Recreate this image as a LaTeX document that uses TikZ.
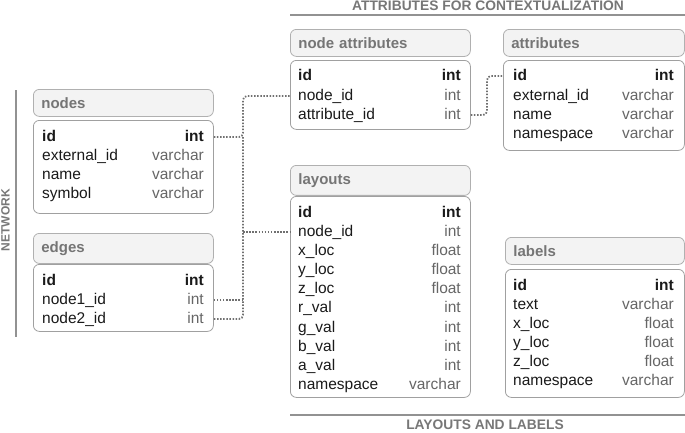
\documentclass[tikz,border=0pt]{standalone}
\usepackage{fontspec}
\setmainfont{Liberation Sans}
\definecolor{hdrfill}{HTML}{F3F3F3}
\definecolor{hdrline}{HTML}{B0B0B0}
\definecolor{boxline}{HTML}{A0A0A0}
\definecolor{hdrtext}{HTML}{757575}
\definecolor{fldtext}{HTML}{1A1A1A}
\definecolor{typtext}{HTML}{666666}
\definecolor{seclabel}{HTML}{777777}
\definecolor{linkcol}{HTML}{707070}
\tikzset{
  hdr/.style={draw=hdrline, fill=hdrfill, rounded corners=6pt, line width=0.8pt,
    anchor=north west, inner sep=8pt, minimum height=26pt, align=left,
    text=hdrtext, font=\fontsize{15}{17}\selectfont\bfseries},
  tbody/.style={draw=boxline, fill=white, rounded corners=6pt, line width=0.8pt,
    anchor=north west, inner sep=0pt},
  fld/.style={anchor=west, inner sep=0pt, text height=11pt, text depth=3pt,
    text=fldtext, font=\fontsize{15.5}{17}\selectfont},
  typ/.style={anchor=east, inner sep=0pt, text height=11pt, text depth=3pt,
    text=typtext, font=\fontsize{15.5}{17}\selectfont},
  sec/.style={inner sep=0pt, text=seclabel, font=\fontsize{13.8}{15}\selectfont\bfseries},
  secline/.style={draw=seclabel!80, line width=1.8pt},
  link/.style={draw=linkcol, line width=1.8pt, dash pattern=on 1.5pt off 1.6pt, rounded corners=4pt}
}
\begin{document}
\begin{tikzpicture}[x=1pt,y=-1pt]
	  \useasboundingbox (0,0) rectangle (685,432);
	  % section labels
	  \node[sec] (sec-attr) at (488,5.5) {ATTRIBUTES FOR CONTEXTUALIZATION};
	  \node[sec] (sec-lay) at (485,424.5) {LAYOUTS AND LABELS};
	  \node[sec, rotate=90, font=\fontsize{12}{13}\selectfont\bfseries] (sec-net) at (5.5,220) {NETWORK};
	  \draw[secline] (290,15) -- (685,15);
	  \draw[secline] (290,415) -- (685,415);
	  \draw[secline] (16,90) -- (16,337);
	  % nodes
	  \node[hdr, text width=164pt] (nodes-hdr) at (33,89) {nodes};
	  \node[tbody, minimum width=180pt, minimum height=93pt] (nodes-body) at (33,120) {};
	  \node[fld] (nodes-id) at (42,137) {\textbf{id}};
	  \node[fld] (nodes-ext) at (42,156) {external\_id};
	  \node[fld] (nodes-name) at (42,175) {name};
	  \node[fld] (nodes-sym) at (42,194) {symbol};
	  \node[typ] (nodes-idt) at (204,137) {\textbf{\color{fldtext}int}};
	  \node[typ] (nodes-extt) at (204,156) {varchar};
	  \node[typ] (nodes-namet) at (204,175) {varchar};
	  \node[typ] (nodes-symt) at (204,194) {varchar};
	  % edges
	  \node[hdr, text width=164pt] (edges-hdr) at (33,233) {edges};
	  \node[tbody, minimum width=180pt, minimum height=67pt] (edges-body) at (33,264) {};
	  \node[fld] (edges-id) at (42,281) {\textbf{id}};
	  \node[fld] (edges-n1) at (42,300) {node1\_id};
	  \node[fld] (edges-n2) at (42,319) {node2\_id};
	  \node[typ] (edges-idt) at (204,281) {\textbf{\color{fldtext}int}};
	  \node[typ] (edges-n1t) at (204,300) {int};
	  \node[typ] (edges-n2t) at (204,319) {int};
	  % node attributes
	  \node[hdr, text width=164pt] (na-hdr) at (290,29) {node attributes};
	  \node[tbody, minimum width=180pt, minimum height=69pt] (na-body) at (290,60) {};
	  \node[fld] (na-id) at (298,76) {\textbf{id}};
	  \node[fld] (na-node) at (298,96) {node\_id};
	  \node[fld] (na-attr) at (298,115) {attribute\_id};
	  \node[typ] (na-idt) at (461,76) {\textbf{\color{fldtext}int}};
	  \node[typ] (na-nodet) at (461,96) {int};
	  \node[typ] (na-attrt) at (461,115) {int};
	  % attributes
	  \node[hdr, text width=165pt] (attr-hdr) at (503,29) {attributes};
	  \node[tbody, minimum width=181pt, minimum height=90pt] (attr-body) at (503,60) {};
	  \node[fld] (attr-id) at (513,76) {\textbf{id}};
	  \node[fld] (attr-ext) at (513,96) {external\_id};
	  \node[fld] (attr-name) at (513,115) {name};
	  \node[fld] (attr-ns) at (513,134) {namespace};
	  \node[typ] (attr-idt) at (674,76) {\textbf{\color{fldtext}int}};
	  \node[typ] (attr-extt) at (674,96) {varchar};
	  \node[typ] (attr-namet) at (674,115) {varchar};
	  \node[typ] (attr-nst) at (674,134) {varchar};
	  % layouts
	  \node[hdr, text width=164pt] (lay-hdr) at (290,165) {layouts};
	  \node[tbody, minimum width=180pt, minimum height=201pt] (lay-body) at (290,196) {};
	  \node[fld] (lay-id) at (298,213) {\textbf{id}};
	  \node[fld] (lay-node) at (298,232) {node\_id};
	  \node[fld] (lay-x) at (298,251) {x\_loc};
	  \node[fld] (lay-y) at (298,270) {y\_loc};
	  \node[fld] (lay-z) at (298,289) {z\_loc};
	  \node[fld] (lay-r) at (298,308) {r\_val};
	  \node[fld] (lay-g) at (298,328) {g\_val};
	  \node[fld] (lay-b) at (298,347) {b\_val};
	  \node[fld] (lay-a) at (298,366) {a\_val};
	  \node[fld] (lay-ns) at (298,385) {namespace};
	  \node[typ] (lay-idt) at (461,213) {\textbf{\color{fldtext}int}};
	  \node[typ] (lay-nodet) at (461,232) {int};
	  \node[typ] (lay-xt) at (461,251) {float};
	  \node[typ] (lay-yt) at (461,270) {float};
	  \node[typ] (lay-zt) at (461,289) {float};
	  \node[typ] (lay-rt) at (461,308) {int};
	  \node[typ] (lay-gt) at (461,328) {int};
	  \node[typ] (lay-bt) at (461,347) {int};
	  \node[typ] (lay-at) at (461,366) {int};
	  \node[typ] (lay-nst) at (461,385) {varchar};
	  % labels
	  \node[hdr, text width=163pt] (lab-hdr) at (505,237) {labels};
	  \node[tbody, minimum width=179pt, minimum height=128pt] (lab-body) at (505,269) {};
	  \node[fld] (lab-id) at (513,286) {\textbf{id}};
	  \node[fld] (lab-text) at (513,305) {text};
	  \node[fld] (lab-x) at (513,324) {x\_loc};
	  \node[fld] (lab-y) at (513,343) {y\_loc};
	  \node[fld] (lab-z) at (513,362) {z\_loc};
	  \node[fld] (lab-ns) at (513,381) {namespace};
	  \node[typ] (lab-idt) at (674,286) {\textbf{\color{fldtext}int}};
	  \node[typ] (lab-textt) at (674,305) {varchar};
	  \node[typ] (lab-xt) at (674,324) {float};
	  \node[typ] (lab-yt) at (674,343) {float};
	  \node[typ] (lab-zt) at (674,362) {float};
	  \node[typ] (lab-nst) at (674,381) {varchar};
	  % links
	  \coordinate (bus) at (243,0);
	  \coordinate (abus) at (487,0);
	  \draw[link] (nodes-body.east |- nodes-id) -- (bus |- nodes-id) |- (na-body.west |- na-node);
	  \draw[link] (bus |- nodes-id) |- (edges-body.east |- edges-n2);
	  \draw[link] (bus |- edges-n1) -- (edges-body.east |- edges-n1);
	  \draw[link] (bus |- lay-node) -- (lay-body.west |- lay-node);
	  \draw[link] (na-body.east |- na-attr) -- (abus |- na-attr) |- (attr-body.west |- attr-id);
	\end{tikzpicture}
\end{document}
